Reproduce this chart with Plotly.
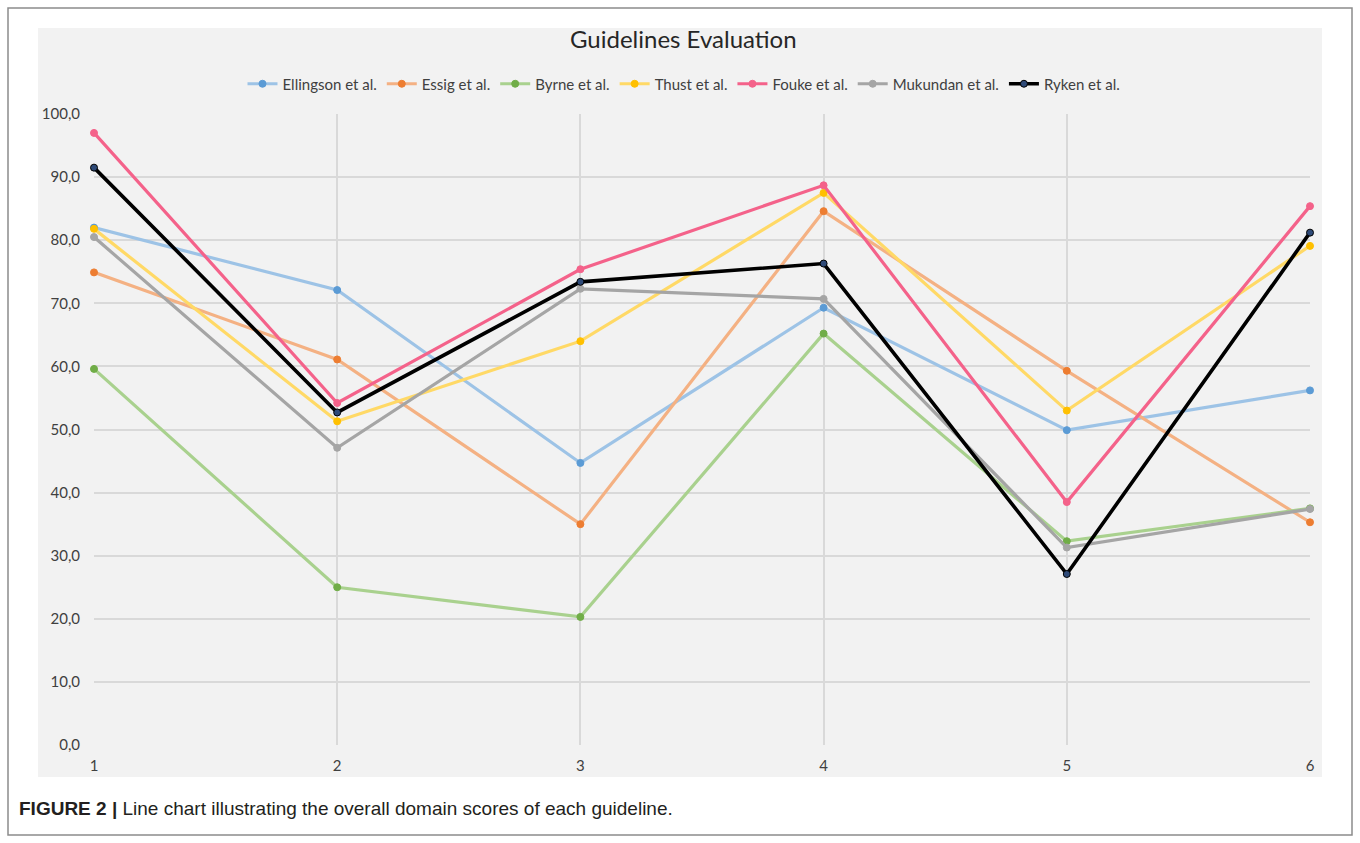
import plotly.graph_objects as go

# Domain index on the x axis
domains = [1, 2, 3, 4, 5, 6]

# Overall domain scores per guideline
ellingson = [82.0, 72.1, 44.7, 69.3, 49.9, 56.2]
essig = [74.9, 61.1, 35.0, 84.6, 59.3, 35.3]
byrne = [59.6, 25.0, 20.3, 65.2, 32.3, 37.5]
thust = [81.8, 51.3, 64.0, 87.5, 53.0, 79.1]
fouke = [97.0, 54.2, 75.4, 88.7, 38.5, 85.4]
mukundan = [80.5, 47.1, 72.3, 70.7, 31.3, 37.4]
ryken = [91.5, 52.7, 73.4, 76.3, 27.1, 81.2]

y_ticks = [0, 10, 20, 30, 40, 50, 60, 70, 80, 90, 100]

series = [
    ("Ellingson et al.", ellingson, "#9dc3e6", "#5b9bd5", "#5b9bd5", 3.2),
    ("Essig et al.", essig, "#f4b183", "#ed7d31", "#ed7d31", 3.2),
    ("Byrne et al.", byrne, "#a9d18e", "#70ad47", "#70ad47", 3.2),
    ("Thust et al.", thust, "#ffd966", "#ffc000", "#ffc000", 3.2),
    ("Fouke et al.", fouke, "#f4628a", "#f4628a", "#f4628a", 3.2),
    ("Mukundan et al.", mukundan, "#a5a5a5", "#a5a5a5", "#a5a5a5", 3.2),
    ("Ryken et al.", ryken, "#000000", "#2e4a78", "#000000", 3.6),
]

fig = go.Figure()
for name, vals, line_col, mk_col, mk_edge, lw in series:
    fig.add_trace(go.Scatter(
        x=domains, y=vals, name=name, mode="lines+markers",
        line=dict(color=line_col, width=lw),
        marker=dict(color=mk_col, size=7, line=dict(color=mk_edge, width=1)),
        cliponaxis=False,
    ))

W, H = 1360, 843
L, R, T, B = 94, 50, 114, 98
pw, ph = W - L - R, H - T - B


def px_x(px):
    return (px - L) / pw


def px_y(py):
    return (H - B - py) / ph


shapes = [
    # outer frame
    dict(type="rect", xref="paper", yref="paper",
         x0=px_x(8), x1=px_x(1352), y0=px_y(835), y1=px_y(8),
         line=dict(color="#8c8c8c", width=1.5), fillcolor="white", layer="below"),
    # chart panel
    dict(type="rect", xref="paper", yref="paper",
         x0=px_x(38), x1=px_x(1322), y0=px_y(777), y1=px_y(28),
         line=dict(width=0), fillcolor="#f2f2f2", layer="below"),
]

annotations = [
    dict(text="Guidelines Evaluation", xref="paper", yref="paper",
         x=px_x(683), y=px_y(38), xanchor="center", yanchor="middle",
         showarrow=False, font=dict(family="Lato, Open Sans", size=24, color="#262626")),
    dict(text="<b>FIGURE 2 |</b> Line chart illustrating the overall domain scores of each guideline.",
         xref="paper", yref="paper", x=px_x(17), y=px_y(808),
         xanchor="left", yanchor="middle", showarrow=False,
         font=dict(family="Liberation Sans, Arial", size=19, color="#231f20")),
]

fig.update_layout(
    width=W, height=H,
    margin=dict(l=L, r=R, t=T, b=B),
    paper_bgcolor="white",
    plot_bgcolor="rgba(0,0,0,0)",
    separators=",.",
    shapes=shapes,
    annotations=annotations,
    font=dict(family="Lato, Open Sans", color="#404040"),
    legend=dict(orientation="h", x=px_x(684), y=px_y(84), xanchor="center", yanchor="middle",
                font=dict(size=15, color="#404040"), bgcolor="rgba(0,0,0,0)",
                itemwidth=30, tracegroupgap=0),
    showlegend=True,
)

fig.update_xaxes(
    range=[1, 6], tickvals=domains, ticktext=[str(d) for d in domains],
    showgrid=True, gridcolor="#d9d9d9", gridwidth=1.5,
    zeroline=False, showline=False, ticks="",
    tickfont=dict(size=15, color="#404040"),
    ticklabelstandoff=10,
)
fig.update_yaxes(
    range=[0, 100], tickvals=y_ticks, tickformat=".1f",
    showgrid=True, gridcolor="#d9d9d9", gridwidth=1.5,
    zeroline=False, showline=False, ticks="",
    tickfont=dict(size=15, color="#404040"),
    ticklabelstandoff=13,
)

fig.write_html("out.html")
